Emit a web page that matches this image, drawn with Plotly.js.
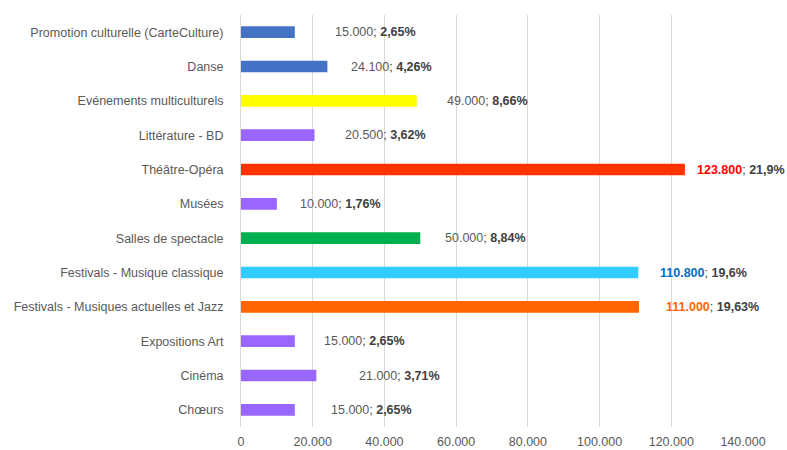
<!DOCTYPE html>
<html>
<head>
<meta charset="utf-8">
<script src="https://cdn.plot.ly/plotly-3.0.1.min.js"></script>
<style>
  html, body { margin: 0; padding: 0; background: #fff; }
  #chart { width: 787px; height: 450px; }
</style>
</head>
<body>
<div id="chart"></div>
<script>
// categories top to bottom, as in the picture
const categories = [
  'Promotion culturelle (CarteCulture)',
  'Danse',
  'Evénements multiculturels',
  'Littérature - BD',
  'Théâtre-Opéra',
  'Musées',
  'Salles de spectacle',
  'Festivals - Musique classique',
  'Festivals - Musiques actuelles et Jazz',
  'Expositions Art',
  'Cinéma',
  'Chœurs'
];
const amounts = [15000, 24100, 49000, 20500, 123800, 10000, 50000, 110800, 111000, 15000, 21000, 15000];
const shares = ['2,65%', '4,26%', '8,66%', '3,62%', '21,9%', '1,76%', '8,84%', '19,6%', '19,63%', '2,65%', '3,71%', '2,65%'];
const xTicks = [0, 20000, 40000, 60000, 80000, 100000, 120000, 140000];

// styling
const barColors = ['#4472C4', '#4472C4', '#FFFF00', '#9966FF', '#FF3300', '#9966FF',
                   '#00B050', '#33CCFF', '#FF6600', '#9966FF', '#9966FF', '#9966FF'];
const valueColors = [null, null, null, null, '#FF0000', null, null, '#0070C0', '#FF6600', null, null, null];
const labelShift = [38, 22, 28, 28, 10, 21, 23, 20, 25, 27, 41, 34];
const grey = '#595959';
const font = 'Liberation Sans, Arial, sans-serif';

function fmt(n) {
  return String(n).replace(/\B(?=(\d{3})+(?!\d))/g, '.');
}

function labelText(k) {
  const v = fmt(amounts[k]);
  const head = valueColors[k]
    ? '<b><span style="color:' + valueColors[k] + '">' + v + '</span></b>'
    : '<span style="color:' + grey + '">' + v + '</span>';
  return head + '; <b>' + shares[k] + '</b>';
}

const trace = {
  type: 'bar',
  orientation: 'h',
  x: amounts,
  y: categories,
  marker: { color: barColors },
  hoverinfo: 'none'
};

const annotations = categories.map((c, k) => ({
  x: amounts[k],
  y: c,
  xref: 'x',
  yref: 'y',
  xanchor: 'left',
  xshift: labelShift[k],
  showarrow: false,
  text: labelText(k),
  font: { family: font, size: 12.5, color: '#404040' }
}));

const layout = {
  width: 787,
  height: 450,
  margin: { l: 241, r: 44, t: 15, b: 23 },
  paper_bgcolor: '#fff',
  plot_bgcolor: '#fff',
  separators: ',.',
  showlegend: false,
  bargap: 0.66,
  font: { family: font, size: 12.5, color: grey },
  xaxis: {
    range: [0, 140000],
    tickvals: xTicks,
    ticktext: xTicks.map(fmt),
    tickfont: { size: 12.5 },
    showgrid: true,
    gridcolor: '#D9D9D9',
    zeroline: false,
    showline: false,
    ticks: 'outside',
    ticklen: 3,
    tickcolor: 'rgba(0,0,0,0)',
    fixedrange: true
  },
  yaxis: {
    categoryorder: 'array',
    categoryarray: categories.slice().reverse(),
    autorange: false,
    range: [-0.5, categories.length - 0.5],
    showgrid: false,
    zeroline: false,
    showline: true,
    linecolor: '#D9D9D9',
    ticks: 'outside',
    ticklen: 14,
    tickcolor: 'rgba(0,0,0,0)',
    fixedrange: true
  },
  annotations: annotations
};

Plotly.newPlot('chart', [trace], layout, { displayModeBar: false, staticPlot: true });
</script>
</body>
</html>
